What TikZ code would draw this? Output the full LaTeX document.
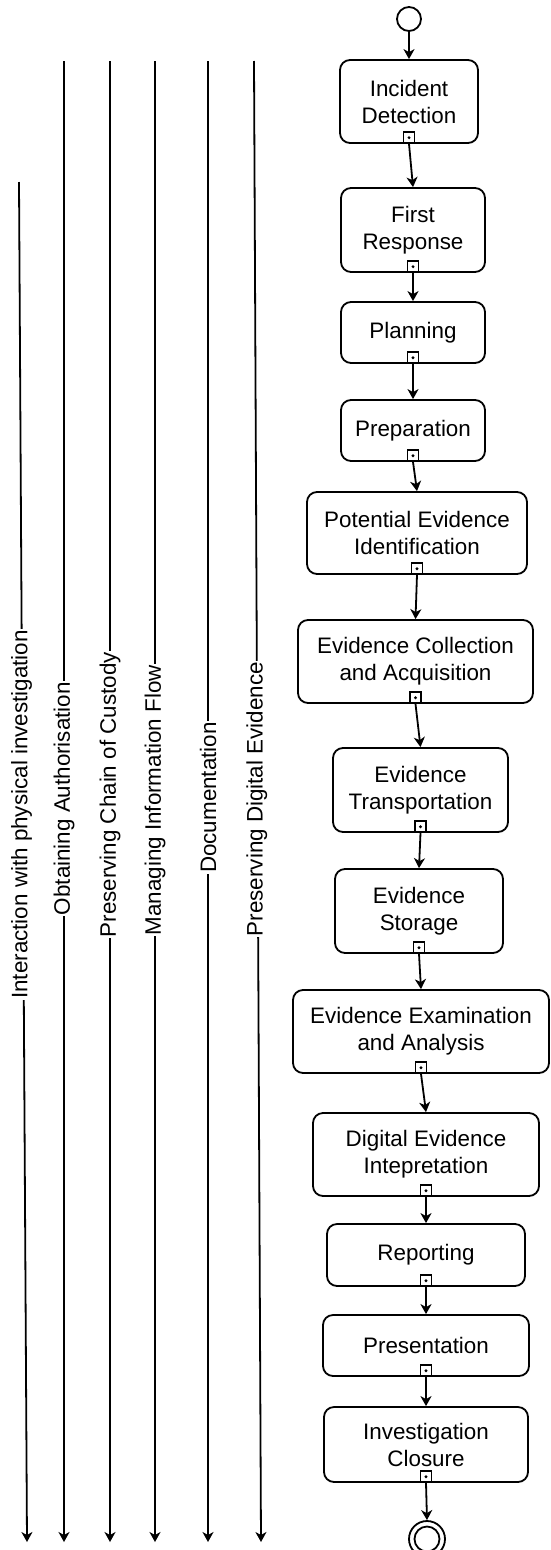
\documentclass[tikz,border=0pt]{standalone}
\usepackage{fontspec}
\setmainfont{Liberation Sans}
\usetikzlibrary{arrows.meta}
\begin{document}
\begin{tikzpicture}[x=1pt,y=-1pt,
  txt/.style={font=\fontsize{22.4}{27}\selectfont},
  box/.style={draw, line width=1.8pt, rounded corners=10pt, align=center, inner sep=0pt, txt},
  port/.style={draw, line width=1.5pt, fill=white, minimum size=11pt, inner sep=0pt, anchor=south},
  arr/.style={line width=1.8pt, -{Stealth[length=10pt,width=11pt,inset=3pt]}},
  side/.style={line width=1.8pt, -{Stealth[length=10pt,width=11pt,inset=3pt]}},
  lab/.style={fill=white, rotate=90, inner sep=1pt, anchor=east, txt},
  state/.style={draw, circle, line width=1.8pt, inner sep=0pt}]
\useasboundingbox (0,0) rectangle (551,1550);

% start / end
\node[state, minimum size=24pt] (start) at (409,19) {};

% boxes
\node[box, minimum width=138pt, minimum height=83pt] (b1) at (409,101.5) {Incident\\Detection};
\node[box, minimum width=144pt, minimum height=84pt] (b2) at (413,230) {First\\Response};
\node[box, minimum width=144pt, minimum height=61pt] (b3) at (413,332.5) {Planning};
\node[box, minimum width=144pt, minimum height=61pt] (b4) at (413,430.5) {Preparation};
\node[box, minimum width=220pt, minimum height=82pt] (b5) at (417,533) {Potential Evidence\\Identification};
\node[box, minimum width=235pt, minimum height=83pt] (b6) at (415.5,661.5) {Evidence Collection\\and Acquisition};
\node[box, minimum width=175pt, minimum height=84pt] (b7) at (420.5,790) {Evidence\\Transportation};
\node[box, minimum width=168pt, minimum height=84pt] (b8) at (419,911) {Evidence\\Storage};
\node[box, minimum width=256pt, minimum height=83pt] (b9) at (421,1031.5) {Evidence Examination\\and Analysis};
\node[box, minimum width=226pt, minimum height=83pt] (b10) at (426,1154.5) {Digital Evidence\\Intepretation};
\node[box, minimum width=198pt, minimum height=62pt] (b11) at (426,1255) {Reporting};
\node[box, minimum width=206pt, minimum height=61pt] (b12) at (426,1345.5) {Presentation};
\node[box, minimum width=204pt, minimum height=75pt] (b13) at (426,1444.5) {Investigation\\Closure};

\node[state, minimum size=36pt] (end) at (427,1539) {};
\node[state, minimum size=25pt] (endin) at (end.center) {};

% ports
\foreach \i in {1,...,13}{
  \node[port] (p\i) at (b\i.south) {};
  \fill (p\i.center) circle (1.6pt);
}

% flow arrows
\draw[arr] (start) -- (b1.north);
\foreach \i/\j in {1/2,2/3,3/4,4/5,5/6,6/7,7/8,8/9,9/10,10/11,11/12,12/13}{
  \draw[arr] (p\i.south) -- (b\j.north);
}
\draw[arr] (p13.south) -- (end.north);

% side lines
\coordinate (t1) at (19,182);   \coordinate (e1) at (27,1542);
\coordinate (t2) at (64,61);    \coordinate (e2) at (64,1542);
\coordinate (t3) at (110,61);   \coordinate (e3) at (110,1542);
\coordinate (t4) at (155,61);   \coordinate (e4) at (155,1542);
\coordinate (t5) at (208,61);   \coordinate (e5) at (208,1542);
\coordinate (t6) at (254,61);   \coordinate (e6) at (261,1542);
\foreach \i in {1,...,6}{ \draw[side] (t\i) -- (e\i); }

\node[lab] (l1) at (21.6,629) {Interaction with physical investigation};
\node[lab] (l2) at (64,681) {Obtaining Authorisation};
\node[lab] (l3) at (110,651) {Preserving Chain of Custody};
\node[lab] (l4) at (155,664) {Managing Information Flow};
\node[lab] (l5) at (208,721) {Documentation};
\node[lab] (l6) at (256.8,661) {Preserving Digital Evidence};
\end{tikzpicture}
\end{document}
